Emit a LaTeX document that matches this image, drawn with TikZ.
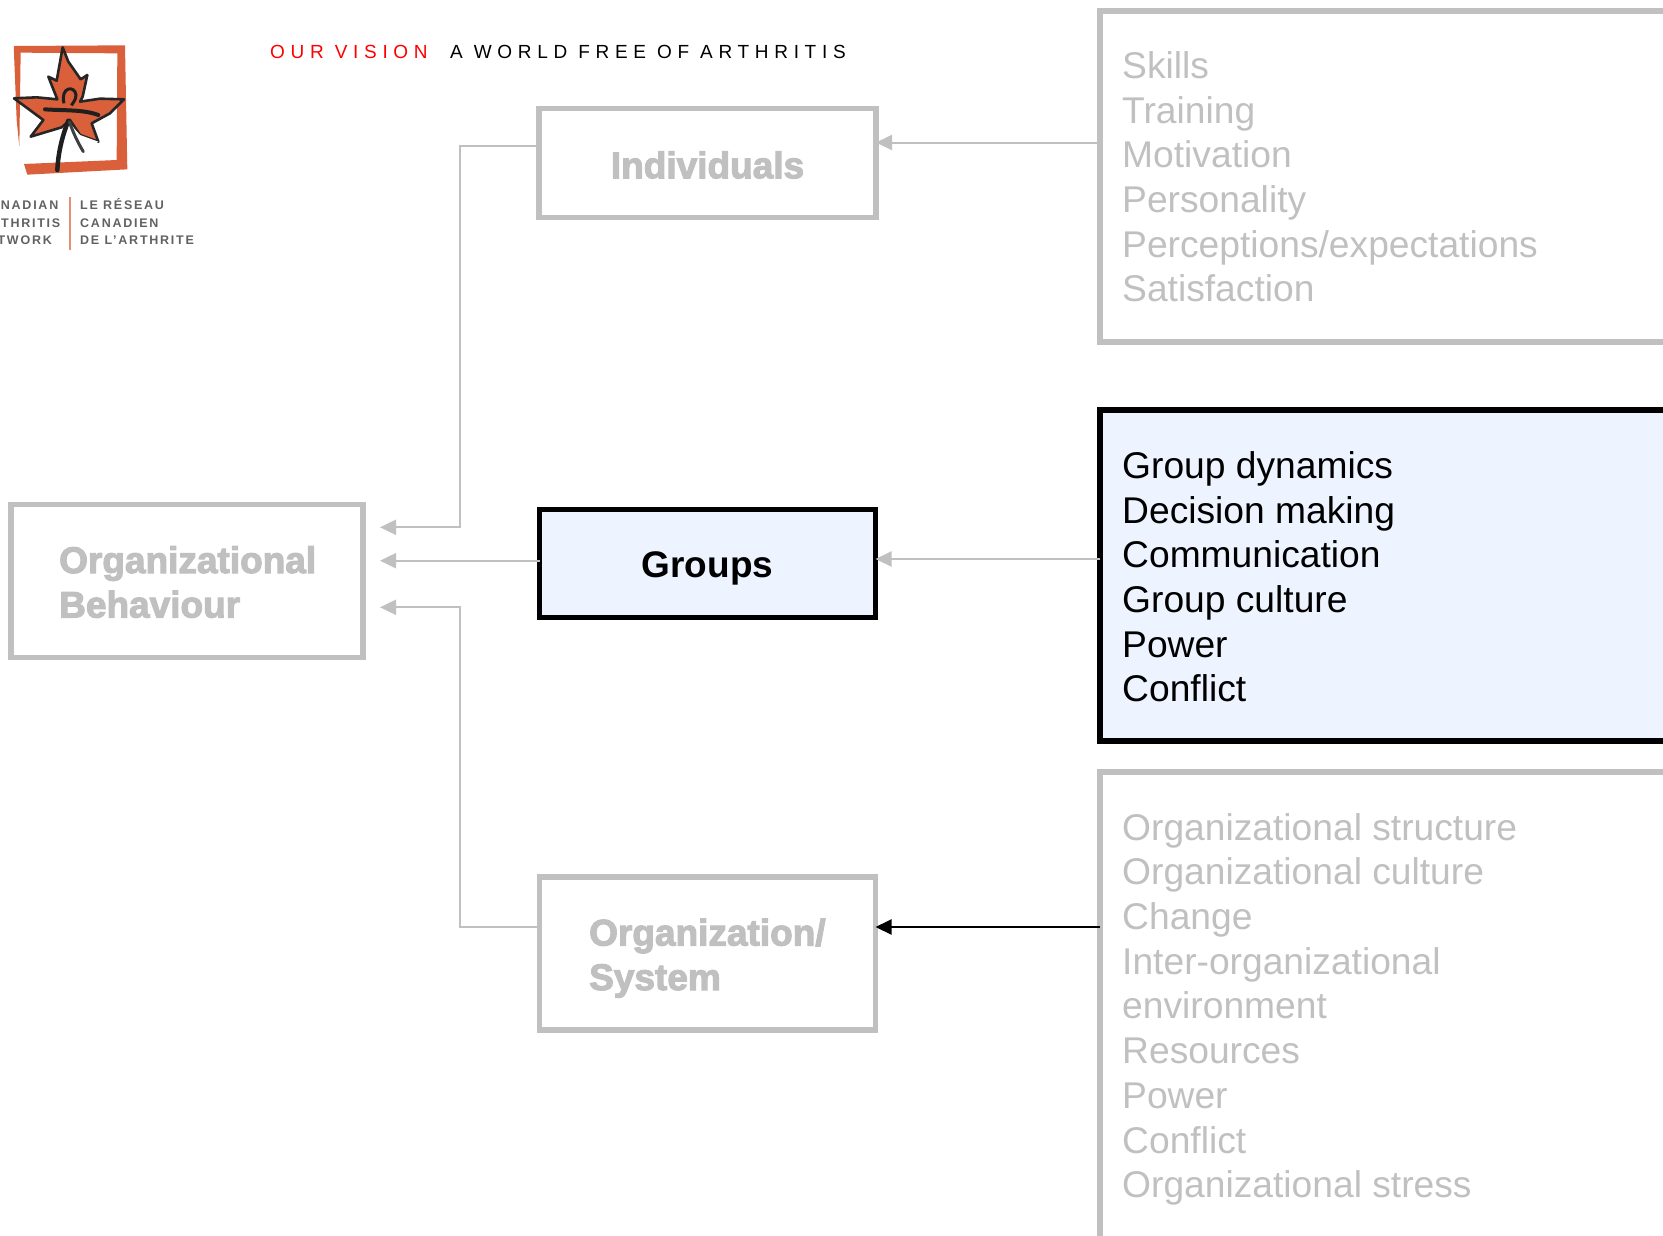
\documentclass[tikz,border=0pt]{standalone}
\usepackage{fontspec}
\setmainfont{Liberation Sans}
\newfontfamily\fakeb[FakeBold=3]{Liberation Sans Bold}
\newfontfamily\visionf[LetterSpace=30]{Liberation Sans}
\newfontfamily\logof[LetterSpace=14]{Liberation Sans Bold}
\usetikzlibrary{arrows.meta}
\definecolor{gr}{HTML}{C0C0C0}
\definecolor{hl}{HTML}{EEF4FF}
\definecolor{lg}{HTML}{D9603A}
\tikzset{
 box/.style={rectangle,draw=gr,line width=5.8pt,inner sep=0pt,outer sep=0pt},
 hot/.style={box,draw=black,fill=hl},
 lab/.style={font=\fakeb\fontsize{37}{44.5}\selectfont,text=gr,align=left,inner sep=0pt},
 hotlab/.style={font=\bfseries\fontsize{37}{44.5}\selectfont,text=black},
 list/.style={anchor=north west,align=left,inner sep=0pt,font=\fontsize{37.2}{44.7}\selectfont,text=gr},
 conn/.style={draw=gr,line width=2pt,-{Triangle[length=16pt,width=15pt]}},
 connk/.style={draw=black,line width=2pt,-{Triangle[length=16pt,width=15pt]}},
 logot/.style={font=\logof\fontsize{12.5}{17.3}\selectfont,text=black!62,inner sep=0pt,align=left},
}
\begin{document}
\begin{tikzpicture}[x=1pt,y=-1pt]
\useasboundingbox (0,0) rectangle (1663,1235);
\clip (0,0) rectangle (1663,1235);
% boxes
\node[box,minimum width=337,minimum height=109] (ind) at (707.5,163) {};
\node[lab,anchor=center] (indt) at (707.5,165) {Individuals};
\node[hot,minimum width=336,minimum height=108] (grp) at (707.5,563.5) {};
\node[hotlab,inner sep=0pt] (grpt) at (707.5,568) {Groups};
\node[box,minimum width=336,minimum height=152.5] (org) at (707.5,953.5) {};
\node[lab,anchor=north west] (orgt) at (589,918.5) {Organization/\\System};
\node[box,minimum width=352.5,minimum height=153] (ob) at (187,581) {};
\node[lab,anchor=north west] (obt) at (59,546) {Organizational\\Behaviour};
% panels
\node[box,minimum width=700,minimum height=331,anchor=north west] (pi) at (1100,11) {};
\node[hot,minimum width=700,minimum height=331,anchor=north west] (pg) at (1100,410) {};
\node[box,minimum width=700,minimum height=600,anchor=north west] (po) at (1100,772) {};
\node[list] (pit) at (1122,51.3) {Skills\\Training\\Motivation\\Personality\\Perceptions/expectations\\Satisfaction};
\node[list,text=black] (pgt) at (1122,451.3) {Group dynamics\\Decision making\\Communication\\Group culture\\Power\\Conflict};
\node[list] (pot) at (1122,813) {Organizational structure\\Organizational culture\\Change\\Inter-organizational\\environment\\Resources\\Power\\Conflict\\Organizational stress};
% connectors
\coordinate (yi) at (0,142.5);
\coordinate (yg) at (0,559);
\coordinate (yo) at (0,927);
\coordinate (yil) at (0,146);
\coordinate (bus) at (459.5,0);
\coordinate (t1) at (380,527.3);
\coordinate (t2) at (380,560.7);
\coordinate (t3) at (380,607.3);
\draw[conn] (pi.west |- yi) -- (ind.east |- yi);
\draw[conn] (pg.west |- yg) -- (grp.east |- yg);
\draw[connk] (po.west |- yo) -- (org.east |- yo);
\draw[conn] (ind.west |- yil) -- (bus |- yil) -- (bus |- t1) -- (t1);
\draw[conn] (grp.west |- t2) -- (t2);
\draw[conn] (org.west |- yo) -- (bus |- yo) -- (bus |- t3) -- (t3);
% header
\node[anchor=base west,inner sep=0pt,font=\visionf\fontsize{19}{20}\selectfont,text=red] (v1) at (270,58.5) {OUR VISION};
\node[anchor=base west,inner sep=0pt,font=\visionf\fontsize{19}{20}\selectfont] (v2) at (450,58.5) {A WORLD FREE OF ARTHRITIS};
% logo (zoom crop coordinates)
\begin{scope}[shift={(0,20)},scale=1/3]
\fill[lg] (42,78) -- (375,76) -- (382,448) -- (82,464) -- (72,432) -- (350,420) -- (352,100) -- (62,98) -- (58,380) -- (50,300) -- (42,100) -- cycle;
\draw[black!85,line width=2.6pt,line join=round,fill=lg] (188,82) -- (205,125) -- (242,178) -- (262,165) -- (248,230) -- (240,245) -- (300,236) -- (372,238) -- (330,280) -- (275,310) -- (295,365) -- (240,345) -- (210,300) -- (185,322) -- (92,350) -- (130,300) -- (42,235) -- (110,232) -- (172,238) -- (145,170) -- (170,182) -- cycle;
\fill[white] (200,300) -- (240,345) -- (295,365) -- (275,380) -- (240,400) -- (225,340) -- cycle;
\draw[black!88,line width=4pt,line cap=round] (135,268) .. controls (190,272) and (250,268) .. (295,285);
\draw[black!88,line width=3pt] (192,250) .. controls (180,200) and (225,195) .. (228,225) .. controls (228,240) and (218,250) .. (214,256);
\draw[black!88,line width=4.5pt,line cap=round] (205,302) .. controls (190,340) and (175,390) .. (172,450);
\draw[black!75,line width=3pt,line cap=round] (208,305) .. controls (220,340) and (235,370) .. (250,395);
\end{scope}
\draw[lg!70,line width=1.2pt] (70,197) -- (70,250);
\node[logot,anchor=base east] (l1) at (58.5,209.5) {NADIAN};
\node[logot,anchor=base east] (l1b) at (60.5,227) {THRITIS};
\node[logot,anchor=base east] (l1c) at (52,244) {TWORK};
\node[logot,anchor=north west] (l2) at (80,198.5) {LE RÉSEAU\\CANADIEN\\DE L’ARTHRITE};
\end{tikzpicture}
\end{document}
